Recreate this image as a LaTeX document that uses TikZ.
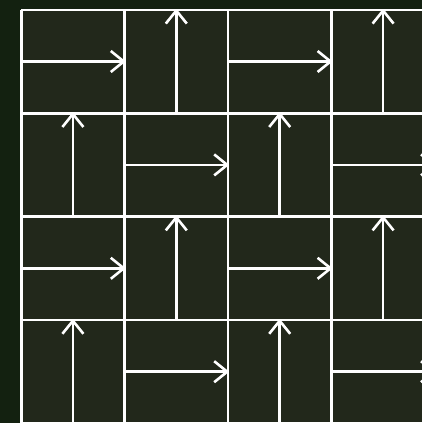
\documentclass[tikz,border=0pt]{standalone}
\definecolor{bgout}{RGB}{19,33,16}
\definecolor{cellfill}{RGB}{34,40,27}
\begin{document}
\begin{tikzpicture}[x=1pt,y=-1pt,
  gridline/.style={white,line width=2.6pt},
  arr/.style={white,line width=2.6pt,line join=round}]
\useasboundingbox (0,0) rectangle (422,423);
\clip (0,0) rectangle (422,423);
\fill[bgout] (0,0) rectangle (422,423);
\fill[cellfill] (21.2,9.8) rectangle (450,450);
\foreach \i in {0,...,4} {
  \draw[gridline] ({21.2+103.4*\i},9.8) -- ({21.2+103.4*\i},450);
  \draw[gridline] (21.2,{9.8+103.4*\i}) -- (450,{9.8+103.4*\i});
}
\foreach \i in {0,...,3} {
  \foreach \j in {0,...,3} {
    \pgfmathsetmacro\L{21.2+103.4*\i}
    \pgfmathsetmacro\R{\L+103.4}
    \pgfmathsetmacro\T{9.8+103.4*\j}
    \pgfmathsetmacro\B{\T+103.4}
    \pgfmathsetmacro\cx{\L+51.7}
    \pgfmathsetmacro\cy{\T+51.7}
    \pgfmathtruncatemacro\p{mod(\i+\j,2)}
    \ifnum\p=0
      \draw[arr] (\L,\cy) -- (\R-0.8,\cy);
      \draw[arr] (\R-13.8,\cy-10.5) -- (\R-0.8,\cy) -- (\R-13.8,\cy+10.5);
    \else
      \draw[arr] (\cx,\B) -- (\cx,\T+0.8);
      \draw[arr] (\cx-10.5,\T+13.8) -- (\cx,\T+0.8) -- (\cx+10.5,\T+13.8);
    \fi
  }
}
\end{tikzpicture}
\end{document}
